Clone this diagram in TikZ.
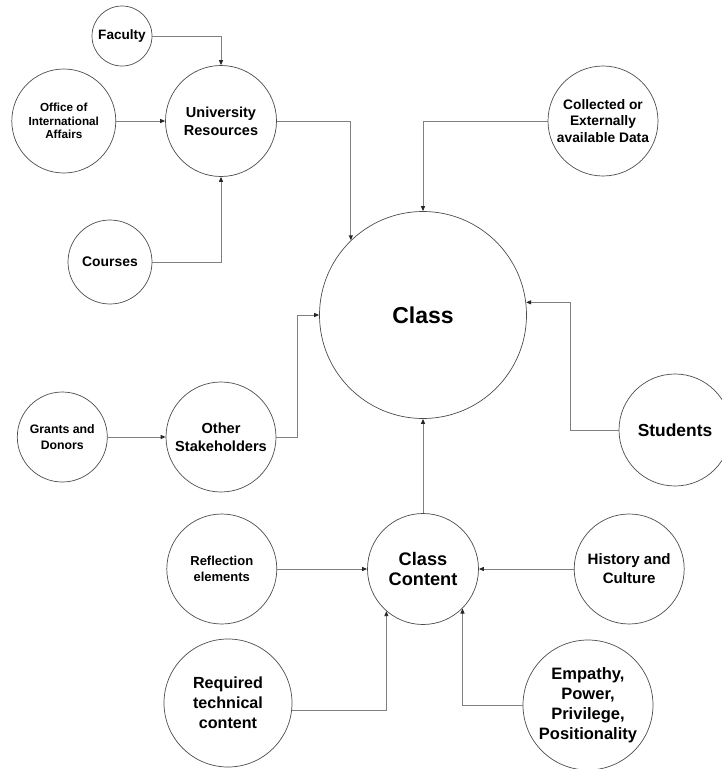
\documentclass[tikz,border=0pt]{standalone}
\usepackage{fontspec}
\setmainfont{Liberation Sans}
\usetikzlibrary{arrows.meta,positioning}
\newcommand{\fsz}[2]{\fontsize{#1}{#2}\selectfont\bfseries}

\begin{document}
\begin{tikzpicture}[
  x=1pt, y=-1pt,
  bubble/.style={draw=black!70, line width=0.7pt, circle, align=center,
    inner sep=0pt, text=black},
  arrow/.style={-{Triangle[length=5pt,width=4pt,color=black!85]}, draw=black!50,
    line width=0.9pt}
]
\useasboundingbox (0,0) rectangle (722,769);

\node[bubble, minimum size=207pt, font=\fsz{23}{27}] (class) at (423,315) {Class};

% university side
\node[bubble, minimum size=111pt, font=\fsz{14.5}{18}] (univ) at (221,121) {University\\Resources};
\node[bubble, minimum size=60pt, font=\fsz{13.6}{16}] (faculty) at (122,36) {Faculty};
\node[bubble, minimum size=104pt, font=\fsz{11.7}{13.5}, left=49pt of univ] (office) {Office of\\International\\Affairs};
\node[bubble, minimum size=84pt, font=\fsz{13.9}{16}] (courses) at (110,262) {Courses};
\node[bubble, minimum size=110pt, font=\fsz{13.8}{16.5}] (data) at (603,121) {Collected or\\Externally\\available Data};

% stakeholders
\node[bubble, minimum size=110pt, font=\fsz{14.6}{18.3}] (others) at (221,437) {Other\\Stakeholders};
\node[bubble, minimum size=90pt, font=\fsz{12.3}{16.3}, left=58pt of others] (grants) {Grants and\\Donors};
\node[bubble, minimum size=112pt, font=\fsz{17.4}{20}] (students) at (675,430) {Students};

% content
\node[bubble, minimum size=111pt, font=\fsz{18.2}{20}] (content) at (423,569) {Class\\Content};
\node[bubble, minimum size=110pt, font=\fsz{13}{16}, left=90pt of content] (reflect) {Reflection\\elements};
\node[bubble, minimum size=110pt, font=\fsz{15.1}{19}, right=95pt of content] (history) {History and\\Culture};
\node[bubble, minimum size=128pt, font=\fsz{16.1}{20}] (required) at (228,703) {Required\\technical\\content};
\node[bubble, minimum size=130pt, font=\fsz{16.5}{20}] (empathy) at (588,705) {Empathy,\\Power,\\Privilege,\\Positionality};

\draw[arrow] (faculty) -| (univ);
\draw[arrow] (office) -- (univ);
\draw[arrow] (courses) -| (univ);
\draw[arrow] (univ) -| (class.134);
\draw[arrow] (data) -| (class);
\draw[arrow] (grants) -- (others);
\draw[arrow] (others.east) -- ++(21,0) |- (class);
\draw[arrow] (students.west) -- ++(-48,0) |- (class.7);
\draw[arrow] (content) -- (class);
\draw[arrow] (reflect) -- (content);
\draw[arrow] (history) -- (content);
\draw[arrow] (required.-7) -| (content.229);
\draw[arrow] (empathy) -| (content.315);
\end{tikzpicture}
\end{document}
